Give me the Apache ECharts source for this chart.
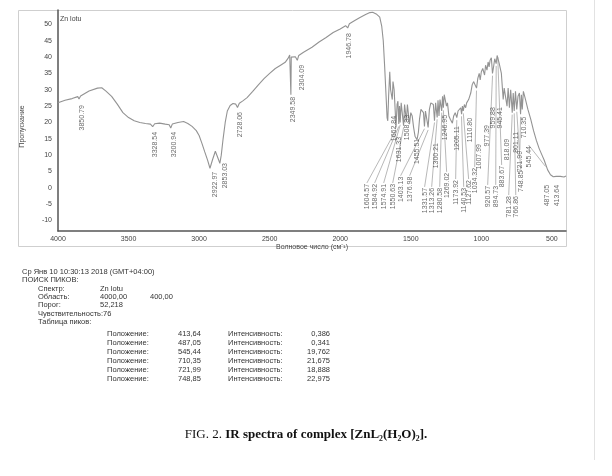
<!DOCTYPE html>
<html><head><meta charset="utf-8">
<script src="https://cdn.jsdelivr.net/npm/echarts@6/dist/echarts.min.js"></script>
<style>html,body{margin:0;padding:0;background:#fff}#c{width:612px;height:476px}</style>
</head><body><div id="c"></div>
<script>
// IR spectrum: [wavenumber cm-1, transmittance %]
const spectrumPoints = [
[4000,26],[3950,26.8],[3900,27.3],[3860,27.9],[3851,27.2],[3840,28.1],[3780,29.6],[3720,30.5],[3690,30.6],[3660,29.6],[3620,28],[3580,25.6],[3540,23],[3500,21.5],[3460,20.5],[3420,20],[3380,19.7],[3345,19.5],[3329,18.7],[3315,19.6],[3280,19.8],[3240,19.5],[3212,19.3],[3201,18.3],[3190,19.5],[3150,20],[3110,20.3],[3080,19.7],[3050,18.8],[3020,17.5],[3000,16],[2980,13.6],[2960,11],[2940,8.5],[2923,6],[2905,8.6],[2885,11.2],[2872,11],[2862,8.6],[2853,7.5],[2843,10],[2830,15],[2815,20],[2800,23.5],[2780,25.2],[2760,25.8],[2740,25.6],[2728,24.6],[2715,25.9],[2690,26.6],[2660,27.6],[2620,29.5],[2580,31.5],[2540,33.4],[2500,35],[2460,36.5],[2420,37.6],[2390,38.4],[2370,39.6],[2358,40.6],[2352,40.4],[2349.6,28.5],[2347,40],[2335,40.6],[2318,40.1],[2304,39],[2294,40.5],[2260,41.5],[2200,43],[2150,44.6],[2100,46],[2050,47.5],[2000,48.6],[1962,49.6],[1947,48.9],[1935,50.2],[1900,51.1],[1860,52.1],[1820,53],[1790,53.6],[1770,53.7],[1745,53.2],[1720,52.2],[1706,49.5],[1695,45],[1685,37],[1675,28],[1668,21.5],[1663,20.5],[1657,28],[1649,35.5],[1643,30],[1637,29.5],[1631,27],[1626,32.5],[1618,30],[1612,25],[1604.6,18.5],[1597,25.5],[1591,26.5],[1585,19.5],[1580,25],[1575,20],[1568,26],[1560,26.5],[1551,19],[1544,25.5],[1538,26],[1531,20.5],[1524,25.5],[1517,26],[1509,19.5],[1500,23],[1490,22],[1480,18.5],[1470,15.8],[1456,14.7],[1446,17],[1438,21],[1428,24],[1418,24.5],[1410,23],[1403,18.8],[1396,23.5],[1388,24],[1377,18.5],[1368,24],[1358,26],[1348,26.5],[1340,25.5],[1332,20.5],[1324,26],[1318,26.5],[1313,21.5],[1307,26.8],[1300,22],[1293,27],[1286,27.5],[1281,23.5],[1275,28],[1269,24.5],[1263,28.5],[1256,29],[1251,28],[1247,25],[1240,26],[1230,22],[1220,21],[1212,21.5],[1205,19.8],[1196,22],[1185,23],[1174,21.5],[1165,23.5],[1155,24],[1146,24.5],[1140,22.5],[1134,25],[1128,23.5],[1120,25.5],[1111,24.5],[1104,26],[1090,27],[1082,26.5],[1075,29],[1065,31.5],[1055,32.5],[1045,32],[1034,30.5],[1025,33.5],[1015,35],[1008,33],[1000,35.5],[990,36.5],[977,34.5],[970,37.5],[960,36],[952,38.5],[945,37],[938,39],[929,39.8],[921,35],[915,36.5],[905,39.5],[895,38],[888,40.5],[882,41],[873,38],[866,37.5],[858,35],[850,30],[845,27],[838,30.5],[830,31],[818,25],[810,30.5],[801,24.5],[792,30],[781,23],[774,29],[767,23.5],[758,29.5],[749,24],[740,28],[730,29],[722,22.5],[716,28.5],[710,24],[702,29.5],[690,27.5],[670,24],[650,21],[630,17.5],[610,14.5],[590,12],[570,10],[555,8.5],[545,7.3],[530,5.5],[510,4],[490,3.4],[470,3.5],[440,3.5],[414,3.3],[400,3.6]
];
const xTickValues = [4000,3500,3000,2500,2000,1500,1000,500];
const yTickValues = [-10,-5,0,5,10,15,20,25,30,35,40,45,50];

// peak labels (wavenumbers picked by the instrument)
const peakLabels = ['3850.79','3328.54','3200.94','2922.97','2853.03','2728.06','2349.58','2304.09','1946.78',
 '1662.84','1631.33','1508.83','1455.51','1300.21','1246.95','1205.11','1110.80','1007.99','977.39','959.88','945.41','883.67','818.09','801.11','721.99','710.35','545.44',
 '1604.57','1584.92','1574.91','1550.63','1403.13','1376.98','1331.57','1313.26','1280.58','1269.02','1173.92','1140.53','1127.62','1034.32','920.57','894.73','781.28','766.86','748.85','487.05','413.64'];
// layout: where each label's top end sits, in axis units [wavenumber, transmittance], and whether it has a leader line
const peakLabelLayout = [
 [3832,25.3,0],[3315,17.1,0],[3180,17.1,0],[2889,4.9,0],[2818,7.6,0],[2712,23.2,0],[2337,27.8,0],[2273,37.6,0],[1940,47.3,0],
 [1621,22.0,0],[1586,15.6,0],[1529,22.3,0],[1458,15.0,0],[1323,13.7,0],[1259,22.3,0],[1174,18.9,0],[1083,21.4,0],[1019,13.4,0],[962,19.2,0],[919,24.7,0],[870,24.7,0],[856,6.7,1],[820,15.0,0],[757,17.1,0],[727,11.3,1],[700,21.7,0],[665,12.8,1],
 [1811,1.2,1],[1756,1.2,1],[1692,1.2,1],[1628,1.2,1],[1572,3.4,1],[1508,3.4,1],[1402,0,1],[1352,0,1],[1295,0,1],[1246,4.6,1],[1182,2.4,1],[1125,0,1],[1090,2.4,1],[1047,6.1,1],[955,0.6,1],[898,0.6,1],[806,-2.5,1],[756,-2.5,1],[721,5.3,1],[537,0.9,0],[466,0.9,0]
];

const headerLines = ['Ср Янв 10 10:30:13 2018 (GMT+04:00)','ПОИСК ПИКОВ:'];
const paramNames = ['Спектр:','Область:','Порог:','Чувствительность:76','Таблица пиков:'];
const paramValues = [['Zn lotu',''],['4000,00','400,00'],['52,218',''],['',''],['','']];
const tablePositions = ['413,64','487,05','545,44','710,35','721,99','748,85'];
const tableIntensities = ['0,386','0,341','19,762','21,675','18,888','22,975'];

function interpT(w){
  for(let i=0;i<spectrumPoints.length-1;i++){
    const a=spectrumPoints[i], b=spectrumPoints[i+1];
    if(a[0]>=w && b[0]<=w){ const t=(a[0]-w)/(a[0]-b[0]); return a[1]+t*(b[1]-a[1]); }
  }
  return spectrumPoints[spectrumPoints.length-1][1];
}

const labelData = peakLabels.map((t,i)=>({name:t, value:[peakLabelLayout[i][0], peakLabelLayout[i][1]]}));
const leaderData = [];
peakLabels.forEach((t,i)=>{
  if(peakLabelLayout[i][2]){
    const w=parseFloat(t);
    leaderData.push({coords:[[peakLabelLayout[i][0], peakLabelLayout[i][1]+0.3],[w, interpT(w)-0.8]]});
  }
});

const FONT='"Liberation Sans", Arial, sans-serif';
const graphics = [
  {type:'rect', shape:{x:18.5,y:10.5,width:548,height:236}, style:{fill:'none', stroke:'#cfcfcf', lineWidth:1}, silent:true, z:-1},
  {type:'line', shape:{x1:594.5,y1:0,x2:594.5,y2:460}, style:{stroke:'#e2e2e2', lineWidth:1}, silent:true, z:-1},
  {type:'text', style:{text:'Zn lotu', x:60, y:19, fontSize:7, fontFamily:FONT, fill:'#444', verticalAlign:'middle'}}
];
const lineH = 8.3;
headerLines.forEach((t,i)=>graphics.push({type:'text', style:{text:t, x:22, y:272+i*lineH, fontSize:7.5, fontFamily:FONT, fill:'#333', verticalAlign:'middle'}}));
paramNames.forEach((t,i)=>{
  const y = 272+(i+2)*lineH;
  graphics.push({type:'text', style:{text:t, x:38, y:y, fontSize:7.5, fontFamily:FONT, fill:'#333', verticalAlign:'middle'}});
  if(paramValues[i][0]) graphics.push({type:'text', style:{text:paramValues[i][0], x:100, y:y, fontSize:7.5, fontFamily:FONT, fill:'#333', verticalAlign:'middle'}});
  if(paramValues[i][1]) graphics.push({type:'text', style:{text:paramValues[i][1], x:150, y:y, fontSize:7.5, fontFamily:FONT, fill:'#333', verticalAlign:'middle'}});
});
tablePositions.forEach((p,i)=>{
  const y = 334+i*9;
  graphics.push({type:'text', style:{text:'Положение:', x:107, y:y, fontSize:7.5, fontFamily:FONT, fill:'#333', verticalAlign:'middle'}});
  graphics.push({type:'text', style:{text:p, x:178, y:y, fontSize:7.5, fontFamily:FONT, fill:'#333', verticalAlign:'middle'}});
  graphics.push({type:'text', style:{text:'Интенсивность:', x:228, y:y, fontSize:7.5, fontFamily:FONT, fill:'#333', verticalAlign:'middle'}});
  graphics.push({type:'text', style:{text:tableIntensities[i], x:330, y:y, align:'right', fontSize:7.5, fontFamily:FONT, fill:'#333', verticalAlign:'middle'}});
});
graphics.push({type:'text', style:{
  text:'{n|FIG. 2. }{b|IR spectra of complex [ZnL₂(H₂O)₂].}', x:306, y:435, align:'center', verticalAlign:'middle',
  rich:{ n:{fontFamily:'"Liberation Serif","Times New Roman",serif', fontSize:13, fill:'#111'},
         b:{fontFamily:'"Liberation Serif","Times New Roman",serif', fontSize:13, fontWeight:'bold', fill:'#111'} }
}});

const chart = echarts.init(document.getElementById('c'), null, {renderer:'canvas'});
chart.setOption({
  animation:false,
  backgroundColor:'#fff',
  grid:{left:58, right:46, top:10, bottom:245},
  xAxis:{type:'value', min:400, max:4000, inverse:true,
    name:'Волновое число (см⁻¹)', nameLocation:'middle', nameGap:13,
    nameTextStyle:{fontSize:7, fontFamily:FONT, color:'#444'},
    axisLine:{show:true, onZero:false, lineStyle:{color:'#555', width:1.5}},
    axisTick:{show:false},
    axisLabel:{customValues:xTickValues, formatter:v=>String(v), fontSize:7, fontFamily:FONT, color:'#444', margin:5},
    splitLine:{show:false}},
  yAxis:{type:'value', min:-13.2, max:54.4,
    name:'Пропускание', nameLocation:'middle', nameGap:32, nameRotate:90,
    nameTextStyle:{fontSize:7, fontFamily:FONT, color:'#444', padding:[0,12,0,0]},
    axisLine:{show:true, onZero:false, lineStyle:{color:'#555', width:1.5}},
    axisTick:{show:false},
    axisLabel:{customValues:yTickValues, formatter:v=>String(v), fontSize:7, fontFamily:FONT, color:'#444', margin:6},
    splitLine:{show:false}},
  graphic:graphics,
  series:[
    {type:'line', data:spectrumPoints, showSymbol:false, symbol:'none', lineStyle:{color:'#939393', width:1.1}, z:3},
    {type:'lines', coordinateSystem:'cartesian2d', data:leaderData, lineStyle:{color:'#9a9a9a', width:0.7, opacity:1}, z:2},
    {type:'scatter', data:labelData, symbolSize:0, z:4,
      label:{show:true, formatter:'{b}', position:'inside', rotate:90, align:'right', verticalAlign:'middle',
        fontSize:7, fontFamily:FONT, color:'#444'}}
  ]
});
</script></body></html>
